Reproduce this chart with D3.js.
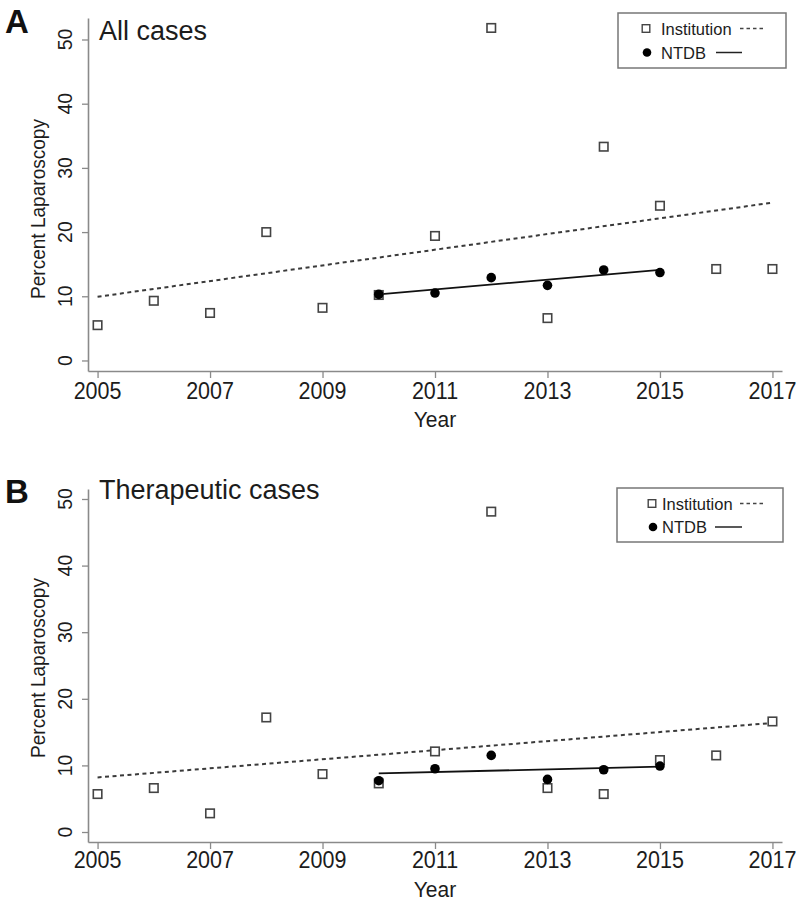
<!DOCTYPE html>
<html>
<head>
<meta charset="utf-8">
<script src="https://cdn.jsdelivr.net/npm/d3@7"></script>
<style>
  html, body { margin: 0; padding: 0; background: #fff; }
  svg { display: block; font-family: "Liberation Sans", Arial, Helvetica, sans-serif; }
</style>
</head>
<body>
<svg id="chart" width="800" height="903"></svg>
<script>
// ---- data ----
const years = [2005, 2006, 2007, 2008, 2009, 2010, 2011, 2012, 2013, 2014, 2015, 2016, 2017];
const ntdbYears = [2010, 2011, 2012, 2013, 2014, 2015];
const instAll  = [5.5, 9.3, 7.4, 20.0, 8.2, 10.2, 19.4, 51.8, 6.6, 33.3, 24.1, 14.25, 14.25];
const ntdbAll  = [10.3, 10.5, 12.9, 11.7, 14.1, 13.7];
const instTher = [5.7, 6.6, 2.8, 17.2, 8.7, 7.3, 12.1, 48.1, 6.6, 5.7, 10.8, 11.5, 16.6];
const ntdbTher = [7.7, 9.5, 11.5, 7.9, 9.35, 9.9];
const xTicks = [2005, 2007, 2009, 2011, 2013, 2015, 2017];
const yTicks = [0, 10, 20, 30, 40, 50];
const seriesNames = ["Institution", "NTDB"];
const panelLetters = ["A", "B"];
const panelTitles = ["All cases", "Therapeutic cases"];
const xLabel = "Year";
const yLabel = "Percent Laparoscopy";

const svg = d3.select("#chart");
const axisColor = "#8a8a8a";
const textColor = "#1c1c1c";

function fit(xs, ys) {
  const mx = d3.mean(xs), my = d3.mean(ys);
  let sxy = 0, sxx = 0;
  xs.forEach((x, i) => { sxy += (x - mx) * (ys[i] - my); sxx += (x - mx) * (x - mx); });
  const b = sxy / sxx, a = my - b * mx;
  return xs.map(x => ({x: x, y: a + b * x}));
}

const panels = [
  { inst: instAll, ntdb: ntdbAll, yDomain: [-1.64, 53.35], yRange: [371, 18],
    letterY: 33, titleY: 40, tickLabelY: 399, xLabelY: 427, yLabelC: 209,
    legend: {x: 618, y: 13, w: 168, h: 55, sq: [646, 28.5], t1: [661, 34.5], d: [740, 765, 28.5],
             c: [647, 52.5], t2: [661, 58.5], s: [716, 742, 52.5]} },
  { inst: instTher, ntdb: ntdbTher, yDomain: [-1.5, 51.5], yRange: [842, 489],
    letterY: 503, titleY: 499, tickLabelY: 868, xLabelY: 897, yLabelC: 668,
    legend: {x: 617, y: 488, w: 166, h: 54, sq: [652, 503.5], t1: [662, 509.5], d: [740, 764, 503.5],
             c: [653, 527], t2: [662, 532.5], s: [715, 742, 527]} }
];

panels.forEach((p, pi) => {
  const g = svg.append("g");
  const x = d3.scaleLinear().domain([2004.83, 2017.17]).range([88, 782]);
  const y = d3.scaleLinear().domain(p.yDomain).range(p.yRange);
  const yBottom = p.yRange[0];

  // axes
  const xAxis = g.append("g").attr("transform", `translate(0,${yBottom})`)
    .call(d3.axisBottom(x).tickValues(xTicks).tickSize(7).tickSizeOuter(0).tickFormat(d3.format("d")));
  xAxis.select(".domain").attr("stroke", axisColor).attr("stroke-width", 1.6);
  xAxis.selectAll(".tick line").attr("stroke", axisColor).attr("stroke-width", 1.3);
  xAxis.selectAll(".tick text").remove();
  g.append("g").selectAll("text").data(xTicks).join("text")
    .attr("transform", d => `translate(${x(d)},${p.tickLabelY}) scale(1,1.08)`)
    .attr("text-anchor", "middle").attr("font-size", 21.5).attr("fill", textColor)
    .text(d => d);

  const yAxis = g.append("g").attr("transform", `translate(88,0)`)
    .call(d3.axisLeft(y).tickValues(yTicks).tickSize(6).tickSizeOuter(0));
  yAxis.select(".domain").attr("stroke", axisColor).attr("stroke-width", 1.6);
  yAxis.selectAll(".tick line").attr("stroke", axisColor).attr("stroke-width", 1.3);
  yAxis.selectAll(".tick text").remove();
  g.append("g").selectAll("text").data(yTicks).join("text")
    .attr("transform", d => `translate(72,${y(d)}) rotate(-90)`)
    .attr("text-anchor", "middle").attr("font-size", 19.5).attr("fill", textColor)
    .text(d => d);

  // axis titles
  g.append("text").attr("transform", `translate(${x(2011)},${p.xLabelY}) scale(1,1.06)`)
    .attr("text-anchor", "middle").attr("font-size", 21).attr("fill", textColor).text(xLabel);
  g.append("text").attr("transform", `translate(45,${p.yLabelC}) rotate(-90)`)
    .attr("text-anchor", "middle").attr("font-size", 21).attr("fill", textColor)
    .attr("textLength", 180).attr("lengthAdjust", "spacingAndGlyphs").text(yLabel);

  // panel letter and title
  g.append("text").attr("x", 5).attr("y", p.letterY).attr("font-size", 33)
    .attr("font-weight", "bold").attr("fill", "#111").text(panelLetters[pi]);
  g.append("text").attr("x", 99).attr("y", p.titleY).attr("font-size", 27)
    .attr("fill", textColor).text(panelTitles[pi]);

  // fit lines
  const line = d3.line().x(d => x(d.x)).y(d => y(d.y));
  const instFit = fit(years, p.inst);
  const ntdbFit = fit(ntdbYears, p.ntdb);
  g.append("path").datum([instFit[0], instFit[instFit.length - 1]])
    .attr("d", line).attr("fill", "none").attr("stroke", "#3a3a3a")
    .attr("stroke-width", 2).attr("stroke-dasharray", "4,3.5");
  g.append("path").datum([ntdbFit[0], ntdbFit[ntdbFit.length - 1]])
    .attr("d", line).attr("fill", "none").attr("stroke", "#111").attr("stroke-width", 1.8);

  // points
  const sq = 8.5;
  g.append("g").selectAll("rect").data(years).join("rect")
    .attr("x", (d, i) => x(d) - sq / 2).attr("y", (d, i) => y(p.inst[i]) - sq / 2)
    .attr("width", sq).attr("height", sq)
    .attr("fill", "#fff").attr("stroke", "#444").attr("stroke-width", 1.6);
  g.append("g").selectAll("circle").data(ntdbYears).join("circle")
    .attr("cx", d => x(d)).attr("cy", (d, i) => y(p.ntdb[i])).attr("r", 4.8)
    .attr("fill", "#000");

  // legend
  const L = p.legend;
  const lg = g.append("g");
  lg.append("rect").attr("x", L.x).attr("y", L.y).attr("width", L.w).attr("height", L.h)
    .attr("fill", "#fff").attr("stroke", "#777").attr("stroke-width", 1.5);
  lg.append("rect").attr("x", L.sq[0] - 3.8).attr("y", L.sq[1] - 3.8).attr("width", 7.6).attr("height", 7.6)
    .attr("fill", "#fff").attr("stroke", "#444").attr("stroke-width", 1.4);
  lg.append("text").attr("x", L.t1[0]).attr("y", L.t1[1]).attr("font-size", 16.5)
    .attr("fill", textColor).text(seriesNames[0]);
  lg.append("line").attr("x1", L.d[0]).attr("x2", L.d[1]).attr("y1", L.d[2]).attr("y2", L.d[2])
    .attr("stroke", "#444").attr("stroke-width", 1.6).attr("stroke-dasharray", "3.5,3");
  lg.append("circle").attr("cx", L.c[0]).attr("cy", L.c[1]).attr("r", 4.3).attr("fill", "#000");
  lg.append("text").attr("x", L.t2[0]).attr("y", L.t2[1]).attr("font-size", 16.5)
    .attr("fill", textColor).text(seriesNames[1]);
  lg.append("line").attr("x1", L.s[0]).attr("x2", L.s[1]).attr("y1", L.s[2]).attr("y2", L.s[2])
    .attr("stroke", "#222").attr("stroke-width", 1.5);
});
</script>
</body>
</html>
